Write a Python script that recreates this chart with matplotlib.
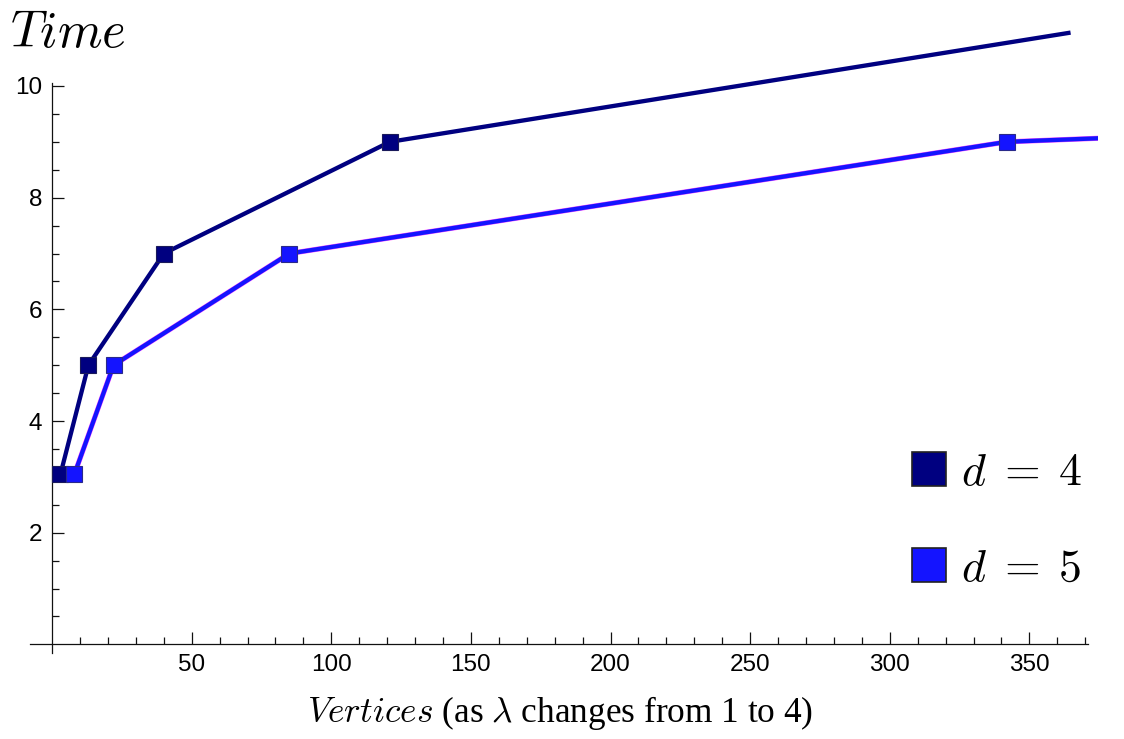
import matplotlib
matplotlib.use("Agg")
import matplotlib.pyplot as plt
import numpy as np
from matplotlib.lines import Line2D
from matplotlib.patches import Rectangle

plt.rcParams['font.family'] = ['Liberation Sans', 'DejaVu Sans']
plt.rcParams['mathtext.fontset'] = 'cm'

# data
vertices_d4 = [3, 13, 40, 121, 364]
time_d4 = [3.05, 5, 7, 9, 10.95]
vertices_d5 = [8, 22, 85, 342, 1365]
time_d5 = [3.05, 5, 7, 9, 11]
series_labels = [r'$d\;=\;4$', r'$d\;=\;5$']
x_major = [50, 100, 150, 200, 250, 300, 350]
y_major = [2, 4, 6, 8, 10]

c4 = '#000080'
c5 = '#1414ff'

fig = plt.figure(figsize=(11.24, 7.39), dpi=100)
ax = fig.add_axes([0, 0, 1, 1])
ax.set_xlim(-18.66, 383.9)
ax.set_ylim(-1.694, 11.54)

# plot range clipping (lines stop a little past the last x tick)
clip = Rectangle((-20, -2), 394.6, 14, transform=ax.transData)

# d = 4
ax.plot(vertices_d4, time_d4, color=c4, lw=3.1, marker='s', ms=11.4,
        mfc=c4, mec='#1a1a5a', mew=0.8, markevery=[0, 1, 2, 3], zorder=3)
# d = 5 (thin magenta fringe underneath)
fringe, = ax.plot(vertices_d5, time_d5, color='#ff55ff', lw=3.7, zorder=3.5)
main5, = ax.plot(vertices_d5, time_d5, color=c5, lw=3.1, marker='s', ms=11.4,
                 mfc=c5, mec='#2a2a8a', mew=0.8, markevery=[0, 1, 2, 3],
                 zorder=4)
fringe.set_clip_path(clip)
main5.set_clip_path(clip)

for s in ['top', 'right']:
    ax.spines[s].set_visible(False)
ax.spines['left'].set_position(('data', 0))
ax.spines['bottom'].set_position(('data', 0))
ax.spines['left'].set_bounds(-0.15, 10.05)
ax.spines['bottom'].set_bounds(-8, 371)
for s in ['left', 'bottom']:
    ax.spines[s].set_linewidth(0.9)
    ax.spines[s].set_color('#111111')

ax.set_xticks(x_major)
ax.set_xticks(np.arange(10, 371, 10), minor=True)
ax.set_yticks(y_major)
ax.set_yticks(np.arange(0.5, 10.01, 0.5), minor=True)
ax.tick_params(which='major', direction='in', length=8.6, width=0.9,
               labelsize=17.5, pad=7, color='#111111')
ax.tick_params(which='minor', direction='in', length=5, width=0.9,
               color='#111111')

fig.text(10 / 1124, 1 - 47 / 739, r'$Time$', fontsize=36.5,
         ha='left', va='baseline')
fig.text(560 / 1124, 1 - 713 / 739,
         r'$Vertices$ (as $\lambda$ changes from 1 to 4)',
         fontsize=25.4, family='Liberation Serif', ha='center', va='center')

handles = [Line2D([], [], ls='none', marker='s', ms=23.8, mfc=c4,
                  mec='#222222', mew=1.2),
           Line2D([], [], ls='none', marker='s', ms=23.8, mfc=c5,
                  mec='#222222', mew=1.2)]
ax.legend(handles, series_labels, loc='center left',
          bbox_to_anchor=(888 / 1124, 1 - 521 / 739), frameon=False,
          fontsize=33, handlelength=0.8, handletextpad=0.3,
          labelspacing=1.12, borderpad=0)

fig.savefig('out.png', dpi=100)
